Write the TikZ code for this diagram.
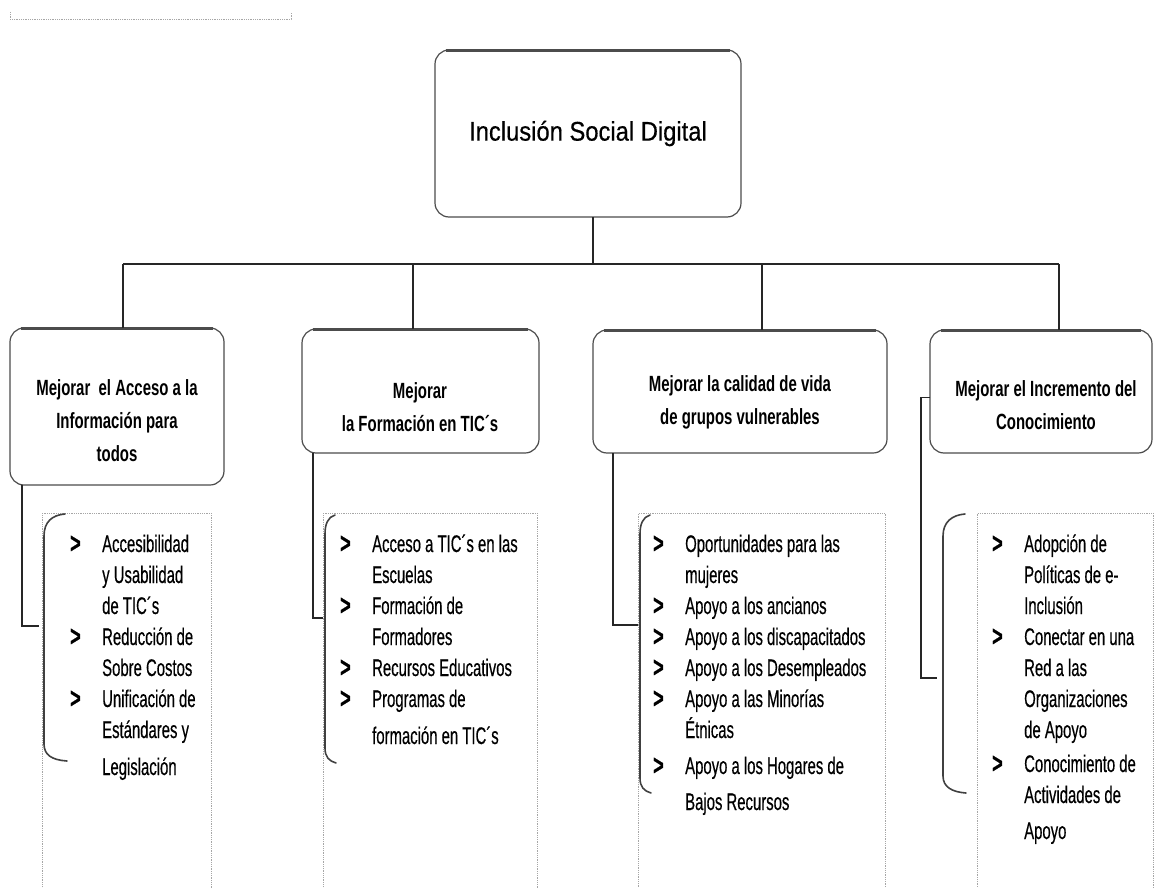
\documentclass[tikz,border=0pt]{standalone}
\usepackage{fontspec}
\setmainfont{Liberation Sans}
\newfontfamily\rootfont[FakeStretch=0.88, FakeBold=0.5]{Liberation Sans}
\newfontfamily\boxfont[FakeStretch=0.68]{Liberation Sans}
\newfontfamily\itemfont[FakeStretch=0.62, FakeBold=0.4]{Liberation Sans}
\usepackage{tikz}
\usepackage{array}

\tikzset{
  mbox/.style={draw=black!70, line width=1.2pt, rounded corners=14pt, fill=white, inner sep=0pt, outer sep=0pt},
  topedge/.style={draw=black!70, line width=2.6pt},
  link/.style={draw=black!85, line width=1.2pt},
  panel/.style={draw=black!35, densely dotted, line width=0.8pt, anchor=north west, inner sep=0pt, minimum height=420pt},
  brace/.style={draw=black!75, line width=1.6pt, line cap=round},
  ttl/.style={font=\boxfont\bfseries\fontsize{22}{33}\selectfont, align=center, inner sep=0pt},
  items/.style={font=\itemfont\fontsize{24}{31}\selectfont, anchor=base west, inner sep=0pt},
}
\newcommand{\bul}{\raisebox{-1pt}{\bfseries\fontsize{29}{31}\selectfont >}}

\begin{document}
\begin{tikzpicture}[x=1pt,y=-1pt]
\useasboundingbox (0,0) rectangle (1156,888);
\clip (0,0) rectangle (1156,888);

% dotted mark, top left
\draw[black!35, densely dotted, line width=0.8pt] (10,12) -- (10,19) -- (291,19) -- (291,12);

% list panels (run off the bottom)
\node[panel, minimum width=169pt] (p1) at (42,513) {};
\node[panel, minimum width=214pt] (p2) at (323,513) {};
\node[panel, minimum width=247pt] (p3) at (638,513) {};
\node[panel, minimum width=176pt] (p4) at (977,513) {};

% brackets
\draw[brace] (65,514) .. controls (52,515) and (44,522) .. (44,536) -- (44,744) .. controls (44,755) and (52,760) .. (67,761);
\draw[brace] (335,515) .. controls (328,517) and (325,524) .. (325,534) -- (325,748) .. controls (325,757) and (329,761) .. (336,763);
\draw[brace] (650,515) .. controls (643,517) and (640,524) .. (640,534) -- (640,778) .. controls (640,787) and (644,791) .. (651,793);
\draw[brace] (965,514) .. controls (952,515) and (943,522) .. (943,536) -- (943,776) .. controls (943,787) and (952,792) .. (966,793);

% list texts
\node[items] (l1) at (70,552) {\begin{tabular}[t]{@{}p{32pt}@{}l@{}}
\bul & Accesibilidad\\
 & y Usabilidad\\
 & de TIC´s\\
\bul & Reducción de\\
 & Sobre Costos\\
\bul & Unificación de\\
 & Estándares y\\[6pt]
 & Legislación
\end{tabular}};
\node[items] (l2) at (340,552) {\begin{tabular}[t]{@{}p{32pt}@{}l@{}}
\bul & Acceso a TIC´s en las\\
 & Escuelas\\
\bul & Formación de\\
 & Formadores\\
\bul & Recursos Educativos\\
\bul & Programas de\\[6pt]
 & formación en TIC´s
\end{tabular}};
\node[items] (l3) at (653,552) {\begin{tabular}[t]{@{}p{32pt}@{}l@{}}
\bul & Oportunidades para las\\
 & mujeres\\
\bul & Apoyo a los ancianos\\
\bul & Apoyo a los discapacitados\\
\bul & Apoyo a los Desempleados\\
\bul & Apoyo a las Minorías\\
 & Étnicas\\[5pt]
\bul & Apoyo a los Hogares de\\[5pt]
 & Bajos Recursos
\end{tabular}};
\node[items] (l4) at (992,552) {\begin{tabular}[t]{@{}p{32pt}@{}l@{}}
\bul & Adopción de\\
 & Políticas de e-\\
 & Inclusión\\
\bul & Conectar en una\\
 & Red a las\\
 & Organizaciones\\
 & de Apoyo\\[3pt]
\bul & Conocimiento de\\
 & Actividades de\\[5pt]
 & Apoyo
\end{tabular}};

% boxes
\node[mbox, minimum width=306pt, minimum height=167pt, font=\rootfont\fontsize{27}{32}\selectfont] (root) at (588,133.5) {Inclusión Social Digital};
\node[mbox, minimum width=214pt, minimum height=157pt] (m1) at (117,406.5) {};
\node[mbox, minimum width=237pt, minimum height=124pt] (m2) at (420.5,391) {};
\node[mbox, minimum width=294pt, minimum height=123pt] (m3) at (740,391.5) {};
\node[mbox, minimum width=222pt, minimum height=123pt] (m4) at (1041,391.5) {};
\foreach \n in {root,m1,m2,m3,m4}
  \draw[topedge] ([xshift=11pt,yshift=-0.6pt]\n.north west) -- ([xshift=-11pt,yshift=-0.6pt]\n.north east);

\node[ttl] (t1) at (117,421) {Mejorar\ \ el Acceso a la\\Información para\\todos};
\node[ttl] (t2) at (420,407) {Mejorar\\la Formación en TIC´s};
\node[ttl] (t3) at (740,402) {Mejorar la calidad de vida\\de grupos vulnerables};
\node[ttl] (t4) at (1046,405) {Mejorar el Incremento del\\Conocimiento};

% tree
\coordinate (j0) at (593,264);
\coordinate (j1) at (123,264);
\coordinate (j2) at (413,264);
\coordinate (j3) at (762,264);
\coordinate (j4) at (1059,264);
\draw[link] (root.south -| j0) -- (j0);
\draw[link] (j1) -- (j4);
\foreach \i in {1,2,3,4}
  \draw[link] (j\i) -- (j\i |- m\i.north);

% box to list
\coordinate (k1) at (39,626);
\coordinate (k2) at (323,618);
\coordinate (k3) at (638,625);
\coordinate (k4) at (937,678);
\draw[link] ([xshift=12pt]m1.south west) |- (k1);
\draw[link] ([xshift=11pt]m2.south west) |- (k2);
\draw[link] ([xshift=20pt]m3.south west) |- (k3);
\draw[link] ([yshift=-6pt]m4.west) -- ++(-9,0) |- (k4);
\end{tikzpicture}
\end{document}
